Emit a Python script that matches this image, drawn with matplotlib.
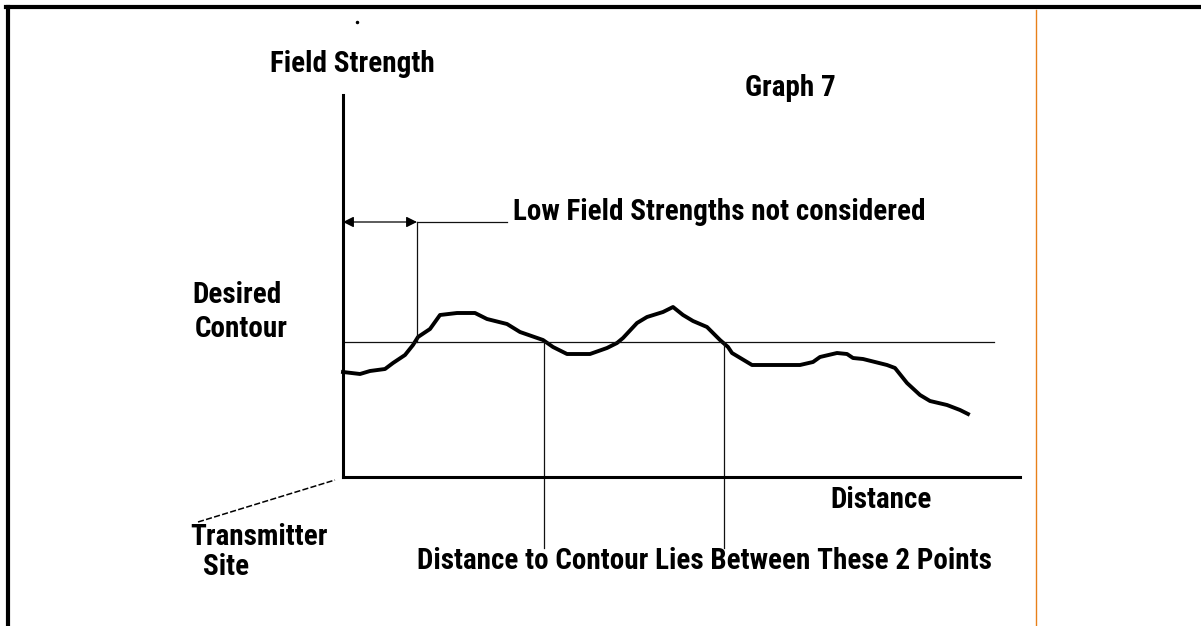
import matplotlib
matplotlib.use("Agg")
import matplotlib.pyplot as plt
from matplotlib.lines import Line2D
from matplotlib import font_manager

W, H = 1201, 626

# field strength trace (arbitrary units)
distance = [0, 17, 27, 42, 50, 62, 70, 75, 87, 97, 114, 132, 144, 164, 177, 200, 210, 224,
            247, 264, 274, 280, 294, 304, 320, 330, 340, 350, 364, 377, 385, 389, 409, 457,
            470, 477, 494, 504, 510, 520, 544, 552, 564, 577, 587, 604, 617, 625]
field = [105, 103, 106, 108, 114, 122, 132, 140, 148, 162, 164, 164, 158, 153, 145, 137, 130, 123,
         123, 129, 134, 139, 154, 160, 165, 170, 162, 156, 150, 137, 130, 124, 112, 112,
         115, 120, 124, 123, 119, 118, 112, 109, 94, 82, 76, 72, 67, 63]

contour_level = 135.5
contour_end = 651
crossings = [201, 381]
low_limit = 74
arrow_level = 255
arrow_line_end = 164

names = {f.name for f in font_manager.fontManager.ttflist}
fam = "DejaVu Sans"
for cand in ["Liberation Sans Narrow", "Roboto Condensed", "PT Sans Narrow", "Archivo Narrow",
             "Asap Condensed"]:
    if cand in names:
        fam = cand
        break
font = dict(family=fam, fontweight="bold", fontsize=21, color="black")

fig = plt.figure(figsize=(W / 100, H / 100), dpi=100)
fig.patch.set_facecolor("white")


def fp(x, y):
    return x / W, 1 - y / H


# frame
fig.add_artist(Line2D([fp(8, 0)[0], fp(8, 0)[0]], [fp(0, 7)[1], 0], color="black", lw=3,
                      transform=fig.transFigure))
fig.add_artist(Line2D([fp(6, 0)[0], 1], [fp(0, 7)[1], fp(0, 7)[1]], color="black", lw=3,
                      transform=fig.transFigure))
fig.add_artist(Line2D([fp(1035.5, 0)[0], fp(1035.5, 0)[0]], [fp(0, 10)[1], 0], color="#e8801a",
                      lw=1.0, transform=fig.transFigure))

ax = fig.add_axes([343 / W, (H - 477) / H, (1020 - 343) / W, (477 - 95) / H])
ax.set_xlim(0, 677)
ax.set_ylim(0, 382)
for s in ["top", "right"]:
    ax.spines[s].set_visible(False)
for s in ["left", "bottom"]:
    ax.spines[s].set_linewidth(2.2)
ax.set_xticks([])
ax.set_yticks([])
ax.patch.set_alpha(0)

ax.plot(distance, field, color="black", lw=2.8, solid_joinstyle="round", clip_on=False)
ax.plot([0, contour_end], [contour_level, contour_level], color="#111111", lw=0.9)
for c in crossings:
    ax.plot([c, c], [contour_level, -71], color="#111111", lw=0.9, clip_on=False)

ax.plot([low_limit, low_limit], [arrow_level, contour_level], color="#111111", lw=0.9)
ax.plot([low_limit, arrow_line_end], [arrow_level, arrow_level], color="#111111", lw=0.9)
ax.annotate("", xy=(0, arrow_level), xytext=(low_limit, arrow_level),
            arrowprops=dict(arrowstyle="<|-|>", color="black", lw=0.9, mutation_scale=16,
                            shrinkA=0, shrinkB=0))

# leader to the transmitter site
fig.add_artist(Line2D([fp(198, 0)[0], fp(335, 0)[0]], [fp(0, 522)[1], fp(0, 480)[1]],
                      color="black", lw=1.1, linestyle=(0, (4, 1.5)), transform=fig.transFigure))
fig.add_artist(Line2D([fp(357, 0)[0]], [fp(0, 22)[1]], marker="o", markersize=1.5,
                      color="black", transform=fig.transFigure))

labels = [
    ("Field Strength", 270, 72),
    ("Graph 7", 745, 96),
    ("Low Field Strengths not considered", 513, 220),
    ("Desired", 192, 303),
    ("Contour", 195, 337),
    ("Distance", 830, 508),
    ("Transmitter", 190, 545),
    ("Site", 203, 575),
    ("Distance to Contour Lies Between These 2 Points", 417, 569),
]
for txt, x, y in labels:
    fig.text(*fp(x, y), txt, ha="left", va="baseline", **font)

fig.savefig("out.png", dpi=100, facecolor="white")
